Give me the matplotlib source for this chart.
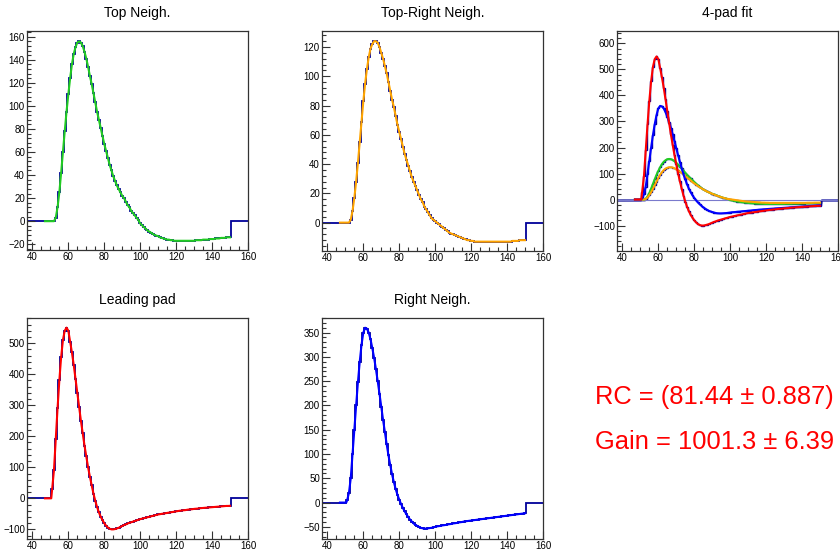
import numpy as np
import matplotlib
matplotlib.use("Agg")
import matplotlib.pyplot as plt
from matplotlib.ticker import MultipleLocator

plt.rcParams['font.family'] = ['Liberation Sans', 'DejaVu Sans']

# bin centres 51..150, width 1
centers = np.arange(51, 151)

leading = [30, 90, 190, 290, 380, 455, 510, 540, 550, 540,
           505, 470, 430, 385, 340, 295, 250, 210, 170, 135,
           100, 70, 42, 15, -8, -28, -45, -59, -70, -80,
           -88, -94, -98, -100, -100, -99, -97, -95, -92, -89,
           -86, -84, -81, -79, -77, -75, -73, -71, -69, -67,
           -65.5, -64, -62.5, -61, -59.5, -58, -56.5, -55, -53.5, -52,
           -51, -50, -49, -48, -47, -46, -45, -44, -43, -42,
           -41, -40, -39.5, -38.5, -38, -37, -36, -35.5, -35, -34,
           -33.5, -33, -32, -31.5, -31, -30.5, -30, -29.5, -29, -28.5,
           -28, -27.5, -27, -26.5, -26, -25.5, -25, -24.5, -24.5, -24]

right = [5, 20, 50, 100, 150, 200, 248, 290, 325, 350,
         360, 358, 350, 336, 318, 298, 275, 250, 224, 197,
         170, 145, 120, 97, 77, 58, 42, 28, 16, 6,
         -3, -11, -18, -24, -30, -35, -39, -43, -46, -48,
         -50, -52, -53, -53.5, -53.5, -53, -52.5, -52, -51, -50,
         -49, -48.5, -48, -47, -46.5, -46, -45, -44.5, -44, -43,
         -42.5, -42, -41, -40.5, -40, -39, -38.5, -38, -37.5, -37,
         -36.5, -36, -35.5, -35, -34.5, -34, -33.5, -33, -32.5, -32,
         -31.5, -31, -30.5, -30, -29.5, -29, -28.5, -28, -27.5, -27,
         -26.5, -26, -25.5, -25, -24.5, -24, -23.5, -23, -22.5, -22]

top = [0, 0, 3, 12, 25, 42, 60, 78, 95, 110,
       124, 136, 145, 151, 155, 156, 155, 152, 147, 141,
       134, 126, 119, 111, 103, 95, 88, 81, 74, 67,
       61, 55, 49, 44, 39, 35, 31, 28, 25, 22,
       20, 17, 14, 12, 9, 7, 5, 3, 1, -2,
       -3.5, -5, -6.5, -8, -9, -10, -11, -12, -12.5, -13,
       -14, -14.5, -15, -15.5, -16, -16, -16.5, -16.5, -17, -17,
       -17, -17, -17, -17, -17, -17, -17, -17, -17, -17,
       -16.5, -16.5, -16.5, -16.5, -16, -16, -16, -16, -15.5, -15.5,
       -15.5, -15, -15, -15, -14.5, -14.5, -14.5, -14, -14, -14]

top_right = [0, 0, 2, 8, 17, 28, 41, 55, 69, 83,
             95, 105, 113, 119, 122, 124, 124, 123, 120, 116,
             112, 107, 102, 96, 90, 84, 79, 73, 67, 62,
             57, 52, 47, 43, 39, 35, 31, 28, 25, 22,
             19, 16, 14, 11, 9, 7, 5, 3, 2, 1,
             0, -1, -2, -3, -4, -5, -6, -7, -7.5, -8,
             -8.5, -9, -9.5, -10, -10.5, -11, -11.5, -12, -12, -12.5,
             -12.5, -13, -13, -13, -13, -13, -13, -13, -13, -13,
             -13, -13, -13, -13, -13, -13, -13, -13, -13, -13,
             -13, -13, -12.5, -12.5, -12.5, -12.5, -12, -12, -12, -12]

fit_start = 47
rc_text = "RC = (81.44 \u00b1 0.887)"
gain_text = "Gain = 1001.3 \u00b1 6.39"

HIST = '#000099'

edges = np.arange(35.5, 161.5, 1)
def full_hist(vals):
    return np.concatenate([np.zeros(15), vals, np.zeros(10)])

def fit_xy(vals):
    x = np.concatenate([[fit_start, 50.5], centers])
    y = np.concatenate([[0, 0], vals])
    return x, y

fig = plt.figure(figsize=(8.4, 5.49), dpi=100)
W, H = 840.0, 549.0

def make_ax(l, r, t, b, title, ylim, ymaj, ymin):
    ax = fig.add_axes([l / W, 1 - b / H, (r - l) / W, (b - t) / H])
    ax.set_xlim(37, 160)
    ax.set_ylim(*ylim)
    ax.xaxis.set_major_locator(MultipleLocator(20))
    ax.xaxis.set_minor_locator(MultipleLocator(5))
    ax.yaxis.set_major_locator(MultipleLocator(ymaj))
    ax.yaxis.set_minor_locator(MultipleLocator(ymin))
    ax.tick_params(which='both', direction='in', top=False, right=False,
                   labelsize=7, pad=1.5, width=0.8, color='#333333')
    ax.tick_params(which='major', length=6)
    ax.tick_params(which='minor', length=3)
    for s in ax.spines.values():
        s.set_linewidth(0.9)
        s.set_color('#333333')
    fig.text((l + r) / 2 / W, 1 - (t - 18) / H, title, ha='center', va='center', fontsize=10)
    return ax

# Top Neigh.
ax1 = make_ax(27, 248, 31, 250, "Top Neigh.", (-25, 165), 20, 4)
ax1.stairs(full_hist(top), edges, color=HIST, lw=1.3)
x, y = fit_xy(top)
ax1.plot(x, y, color='#22cc22', lw=1.5)

# Top-Right Neigh.
ax2 = make_ax(322, 543, 31, 251, "Top-Right Neigh.", (-19.4, 131), 20, 4)
ax2.stairs(full_hist(top_right), edges, color=HIST, lw=1.3)
x, y = fit_xy(top_right)
ax2.plot(x, y, color='#ffa500', lw=1.5)

# 4-pad fit
ax3 = make_ax(617, 838, 31, 251, "4-pad fit", (-198, 648), 100, 20)
ax3.axhline(0, color='#7a7acc', lw=0.8)
for vals in [leading, right, top, top_right]:
    ax3.stairs(full_hist(vals), edges, color=HIST, lw=1.0)
for vals, c in [(top, '#22cc22'), (top_right, '#ffa500'), (right, '#0000ff'), (leading, '#ff0000')]:
    x, y = fit_xy(vals)
    ax3.plot(x, y, color=c, lw=1.5)

# Leading pad
ax4 = make_ax(27, 248, 318, 539, "Leading pad", (-131, 581), 100, 20)
ax4.stairs(full_hist(leading), edges, color=HIST, lw=1.3)
x, y = fit_xy(leading)
ax4.plot(x, y, color='#ff0000', lw=1.5)

# Right Neigh.
ax5 = make_ax(322, 543, 318, 539, "Right Neigh.", (-75, 380), 50, 10)
ax5.stairs(full_hist(right), edges, color=HIST, lw=1.3)
x, y = fit_xy(right)
ax5.plot(x, y, color='#0000ff', lw=1.5)

fig.text(595 / W, 1 - 397 / H, rc_text, color='#ff0000', fontsize=18.4, ha='left', va='center')
fig.text(595 / W, 1 - 442 / H, gain_text, color='#ff0000', fontsize=18.4, ha='left', va='center')

fig.savefig('out.png', dpi=100)
